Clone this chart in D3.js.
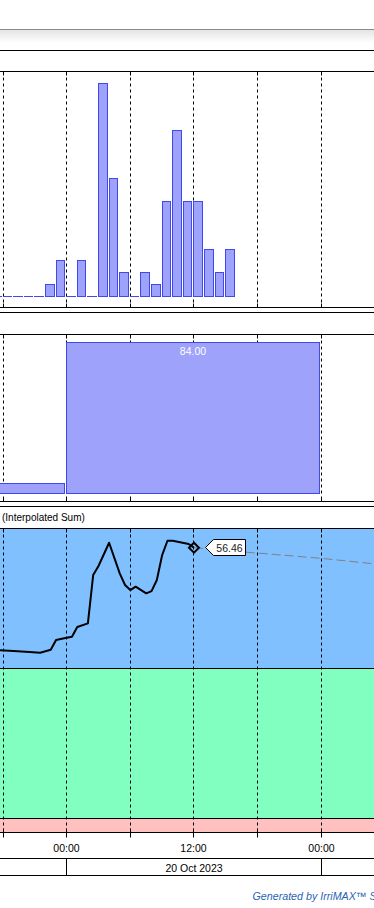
<!DOCTYPE html>
<html>
<head>
<meta charset="utf-8">
<script src="https://cdn.jsdelivr.net/npm/d3@7"></script>
<style>
  body { margin: 0; background: #fff; overflow: hidden; }
  svg { display: block; font-family: "Liberation Sans", Arial, sans-serif; }
</style>
</head>
<body>
<div id="chart"></div>
<script>
// hourly rainfall (panel 1)
const rainTimes = [
  "2023-10-19 17:00", "2023-10-19 18:00", "2023-10-19 19:00", "2023-10-19 20:00",
  "2023-10-19 21:00", "2023-10-19 22:00", "2023-10-19 23:00", "2023-10-20 00:00",
  "2023-10-20 01:00", "2023-10-20 02:00", "2023-10-20 03:00", "2023-10-20 04:00",
  "2023-10-20 05:00", "2023-10-20 06:00", "2023-10-20 07:00", "2023-10-20 08:00",
  "2023-10-20 09:00", "2023-10-20 10:00", "2023-10-20 11:00", "2023-10-20 12:00",
  "2023-10-20 13:00", "2023-10-20 14:00", "2023-10-20 15:00"
];
const rainValues = [0, 0, 0, 0, 0, 1, 3, 0, 3, 0, 18, 10, 2, 0, 2, 1, 8, 14, 8, 8, 4, 2, 4];

// daily totals (panel 2)
const dayStarts = ["2023-10-19 00:00", "2023-10-20 00:00"];
const dayTotals = [6, 84];

// interpolated sum (panel 3)
const sumTimes = [
  "2023-10-19 17:30", "2023-10-19 19:00", "2023-10-19 20:30", "2023-10-19 21:30",
  "2023-10-19 22:30", "2023-10-19 23:00", "2023-10-20 00:00", "2023-10-20 00:30",
  "2023-10-20 01:00", "2023-10-20 02:00", "2023-10-20 02:30", "2023-10-20 03:00",
  "2023-10-20 04:00", "2023-10-20 05:00", "2023-10-20 05:30", "2023-10-20 06:00",
  "2023-10-20 06:30", "2023-10-20 07:30", "2023-10-20 08:00", "2023-10-20 08:30",
  "2023-10-20 09:00", "2023-10-20 09:30", "2023-10-20 10:00", "2023-10-20 11:30",
  "2023-10-20 12:00"
];
const sumValues = [
  49.24, 49.17, 49.10, 49.05, 49.26, 49.95, 50.11, 50.18, 50.86, 51.12, 54.53, 55.17,
  56.81, 54.65, 53.83, 53.47, 53.71, 53.24, 53.40, 54.18, 55.94, 56.95, 56.95, 56.72, 56.46
];
const trendTimes = ["2023-10-20 12:00", "2023-10-20 17:30", "2023-10-21 00:00", "2023-10-21 04:30", "2023-10-21 06:00"];
const trendValues = [56.46, 56.11, 55.71, 55.36, 55.25];
const fullPoint = 48;
const refillPoint = 37.4;

const dateLabel = "20 Oct 2023";

const width = 374, height = 908;
const parse = d3.timeParse("%Y-%m-%d %H:%M");

const svg = d3.select("#chart").append("svg")
  .attr("width", width)
  .attr("height", height);

const x = d3.scaleTime()
  .domain([parse("2023-10-19 17:43"), parse("2023-10-21 04:58")])
  .range([0, width]);
const px = t => Math.floor(x(t)) + 0.5;

// panel extents
const p1 = { top: 71.5, bottom: 307.5, base: 296.5 };
const p2 = { top: 334.5, bottom: 501.5, base: 493.5 };
const p3 = { top: 528.5, bottom: 832.5 };

const y1 = d3.scaleLinear().domain([0, 19]).range([p1.base, p1.top]);
const y2 = d3.scaleLinear().domain([0, 88.45]).range([p2.base, p2.top]);
const y3 = d3.scaleLinear().domain([36.4, 57.85]).range([832, 528]);

const gridTimes = x.ticks(d3.timeHour.every(6));

// header strip
const defs = svg.append("defs");
const grad = defs.append("linearGradient").attr("id", "hdr").attr("x1", 0).attr("x2", 0).attr("y1", 0).attr("y2", 1);
grad.append("stop").attr("offset", "0%").attr("stop-color", "#e4e4e4");
grad.append("stop").attr("offset", "65%").attr("stop-color", "#ffffff");
svg.append("rect").attr("x", 0).attr("y", 30).attr("width", width).attr("height", 20).attr("fill", "url(#hdr)");
svg.append("line").attr("x1", 0).attr("x2", width).attr("y1", 29.5).attr("y2", 29.5).attr("stroke", "#8a8a8a");

// panel 3 colour bands
svg.append("rect").attr("x", 0).attr("y", 528).attr("width", width)
  .attr("height", Math.round(y3(fullPoint)) - 528).attr("fill", "#80c0ff");
svg.append("rect").attr("x", 0).attr("y", Math.round(y3(fullPoint))).attr("width", width)
  .attr("height", Math.round(y3(refillPoint)) - Math.round(y3(fullPoint))).attr("fill", "#80ffc0");
svg.append("rect").attr("x", 0).attr("y", Math.round(y3(refillPoint))).attr("width", width)
  .attr("height", 832 - Math.round(y3(refillPoint))).attr("fill", "#ffc0c0");

// dashed grid lines
[p1, p2, p3].forEach(p => {
  svg.append("g").selectAll("line").data(gridTimes).join("line")
    .attr("x1", px).attr("x2", px)
    .attr("y1", p.top).attr("y2", p.bottom)
    .attr("stroke", "#000")
    .attr("stroke-dasharray", "3,3");
});

// panel 1: hourly bars
const rain = rainTimes.map((t, i) => ({ t: parse(t), v: rainValues[i] }));
const barFill = "#9ea2fa", barStroke = "#4048f0";
svg.append("g").selectAll("rect").data(rain.filter(d => d.v > 0)).join("rect")
  .attr("x", d => px(d.t))
  .attr("width", d => px(d3.timeHour.offset(d.t, 1)) - 2 - px(d.t))
  .attr("y", d => Math.floor(y1(d.v)) + 0.5)
  .attr("height", d => p1.base - Math.floor(y1(d.v)) - 0.5)
  .attr("fill", barFill)
  .attr("stroke", barStroke);
svg.append("g").selectAll("line").data(rain.filter(d => d.v === 0)).join("line")
  .attr("x1", d => Math.floor(x(d.t)))
  .attr("x2", d => Math.floor(x(d3.timeHour.offset(d.t, 1))) - 1)
  .attr("y1", p1.base).attr("y2", p1.base)
  .attr("stroke", barStroke);

// panel 2: daily totals
const days = dayStarts.map((t, i) => ({ t: parse(t), v: dayTotals[i] }));
svg.append("g").selectAll("rect").data(days).join("rect")
  .attr("x", d => px(d.t))
  .attr("width", d => px(d3.timeDay.offset(d.t, 1)) - 2 - px(d.t))
  .attr("y", d => Math.round(y2(d.v)) + 0.5)
  .attr("height", d => p2.base - Math.round(y2(d.v)) - 0.5)
  .attr("fill", barFill)
  .attr("stroke", barStroke);
svg.append("g").selectAll("text").data(days.filter(d => d.v > 20)).join("text")
  .attr("x", d => (px(d.t) + px(d3.timeDay.offset(d.t, 1)) - 2) / 2)
  .attr("y", d => y2(d.v) + 13)
  .attr("text-anchor", "middle")
  .attr("fill", "#fff")
  .style("font-size", "10.5px")
  .text(d => d.v.toFixed(2));

// panel 3: interpolated sum line
const sum = sumTimes.map((t, i) => ({ t: parse(t), v: sumValues[i] }));
const trend = trendTimes.map((t, i) => ({ t: parse(t), v: trendValues[i] }));
const line3 = d3.line().x(d => x(d.t)).y(d => y3(d.v));
svg.append("path").datum(trend).attr("d", line3)
  .attr("fill", "none").attr("stroke", "#808080").attr("stroke-dasharray", "9,4");
svg.append("path").datum(sum).attr("d", line3)
  .attr("fill", "none").attr("stroke", "#000").attr("stroke-width", 2)
  .attr("stroke-linejoin", "round");

const last = sum[sum.length - 1];
const lx = x(last.t), ly = y3(last.v);
svg.append("path")
  .attr("d", `M${lx - 5},${ly} L${lx},${ly - 5} L${lx + 5},${ly} L${lx},${ly + 5} Z`)
  .attr("fill", "none").attr("stroke", "#000").attr("stroke-width", 2);
const cx = Math.round(lx) + 11.5, cy = Math.round(ly) - 0.5;
svg.append("path")
  .attr("d", `M${cx},${cy} L${cx + 8},${cy - 8} L${cx + 40},${cy - 8} L${cx + 40},${cy + 8} L${cx + 8},${cy + 8} Z`)
  .attr("fill", "#fff").attr("stroke", "#000");
svg.append("text")
  .attr("x", cx + 24).attr("y", cy + 4)
  .attr("text-anchor", "middle")
  .attr("fill", "#222")
  .style("font-size", "10.5px")
  .text(last.v.toFixed(2));

// panel frame lines
[50.5, 71.5, 307.5, 312.5, 334.5, 501.5, 506.5, 528.5,
 Math.round(y3(fullPoint)) + 0.5, Math.round(y3(refillPoint)) + 0.5, 832.5, 858.5, 875.5]
  .forEach(yy => {
    svg.append("line").attr("x1", 0).attr("x2", width).attr("y1", yy).attr("y2", yy).attr("stroke", "#000");
  });

// small ticks on panel edges
[p1, p2, p3].forEach(p => {
  svg.append("g").selectAll("line").data(gridTimes).join("line")
    .attr("x1", px).attr("x2", px).attr("y1", p.top).attr("y2", p.top + 4).attr("stroke", "#000");
  svg.append("g").selectAll("line").data(gridTimes).join("line")
    .attr("x1", px).attr("x2", px).attr("y1", p.bottom - 4).attr("y2", p.bottom).attr("stroke", "#000");
});

svg.append("text")
  .attr("x", 2).attr("y", 520.5)
  .attr("fill", "#000")
  .style("font-size", "10px")
  .text("(Interpolated Sum)");

// time axis
const axis = d3.axisBottom(x)
  .ticks(d3.timeHour.every(6))
  .tickSize(5)
  .tickSizeOuter(0)
  .tickFormat(d => d.getHours() % 12 === 0 ? d3.timeFormat("%H:%M")(d) : "");
const gAxis = svg.append("g").attr("transform", "translate(0,832.5)").call(axis);
gAxis.select(".domain").remove();
gAxis.selectAll(".tick").attr("transform", d => `translate(${px(d)},0)`);
gAxis.selectAll(".tick text")
  .attr("y", 19.5).attr("dy", null)
  .attr("fill", "#000")
  .style("font-size", "10.5px")
  .style("font-family", "'Liberation Sans', Arial, sans-serif");

// date band
const dayEdges = [parse("2023-10-20 00:00"), parse("2023-10-21 00:00")];
svg.append("g").selectAll("line").data(dayEdges).join("line")
  .attr("x1", px).attr("x2", px).attr("y1", 858.5).attr("y2", 875.5).attr("stroke", "#000");
svg.append("text")
  .attr("x", (px(dayEdges[0]) + px(dayEdges[1])) / 2)
  .attr("y", 871.5)
  .attr("text-anchor", "middle")
  .attr("fill", "#000")
  .style("font-size", "10.5px")
  .text(dateLabel);

svg.append("text")
  .attr("x", 252.5).attr("y", 899.5)
  .attr("fill", "#2a64b4")
  .style("font-size", "10.7px")
  .style("font-style", "italic")
  .text("Generated by IrriMAX\u2122 Software");
</script>
</body>
</html>
